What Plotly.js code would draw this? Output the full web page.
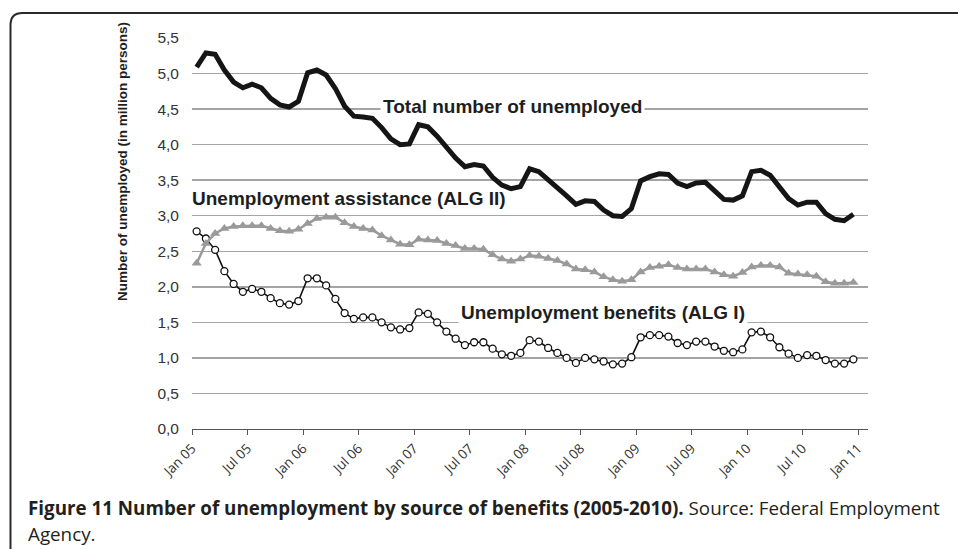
<!DOCTYPE html>
<html>
<head>
<meta charset="utf-8">
<script src="https://cdn.plot.ly/plotly-3.0.1.min.js"></script>
<style>
html,body{margin:0;padding:0;background:#fff;}
#chart{width:958px;height:549px;}
</style>
</head>
<body>
<div id="chart"></div>
<script>
// Monthly values, Jan 2005 - Dec 2010 (million persons)
const totalUnemployed = [
  5.09,5.29,5.27,5.05,4.88,4.80,4.85,4.80,4.65,4.56,4.53,4.61,
  5.01,5.05,4.98,4.79,4.54,4.40,4.39,4.37,4.24,4.08,4.00,4.01,
  4.28,4.25,4.12,3.97,3.81,3.69,3.72,3.70,3.54,3.43,3.38,3.41,
  3.66,3.62,3.51,3.41,3.28,3.16,3.21,3.20,3.08,3.00,2.99,3.10,
  3.49,3.55,3.59,3.58,3.46,3.41,3.46,3.47,3.35,3.23,3.22,3.28,
  3.62,3.64,3.57,3.41,3.24,3.15,3.19,3.19,3.03,2.95,2.93,3.02
];
const algII = [
  2.33,2.61,2.75,2.82,2.85,2.86,2.86,2.86,2.82,2.79,2.78,2.81,
  2.89,2.96,2.98,2.98,2.90,2.85,2.82,2.80,2.72,2.66,2.60,2.59,
  2.67,2.66,2.65,2.61,2.58,2.54,2.54,2.53,2.45,2.39,2.36,2.39,
  2.44,2.43,2.40,2.37,2.32,2.25,2.24,2.21,2.14,2.10,2.08,2.10,
  2.21,2.27,2.29,2.31,2.27,2.25,2.25,2.25,2.21,2.17,2.15,2.20,
  2.28,2.30,2.30,2.28,2.19,2.18,2.17,2.15,2.07,2.05,2.05,2.06
];
const algI = [
  2.78,2.68,2.52,2.22,2.04,1.93,1.97,1.93,1.84,1.77,1.75,1.80,
  2.12,2.12,2.02,1.83,1.63,1.55,1.57,1.57,1.50,1.43,1.40,1.42,
  1.64,1.62,1.50,1.37,1.27,1.18,1.22,1.22,1.13,1.05,1.03,1.07,
  1.25,1.23,1.14,1.07,1.00,0.93,1.00,0.98,0.95,0.91,0.92,1.01,
  1.29,1.32,1.32,1.30,1.21,1.18,1.23,1.23,1.16,1.10,1.08,1.12,
  1.36,1.37,1.29,1.15,1.06,1.00,1.04,1.03,0.97,0.92,0.92,0.98
];
const tickLabels = ['Jan 05','Jul 05','Jan 06','Jul 06','Jan 07','Jul 07','Jan 08',
                    'Jul 08','Jan 09','Jul 09','Jan 10','Jul 10','Jan 11'];
const seriesNames = ['Total number of unemployed','Unemployment assistance (ALG II)','Unemployment benefits (ALG I)'];
const yTitle = 'Number of unemployed (in million persons)';
const captionBold = 'Figure 11 Number of unemployment by source of benefits (2005-2010).';
const captionRest = 'Source: Federal Employment';
const captionLine2 = 'Agency.';

const idx = totalUnemployed.map((_, i) => i);
const tickVals = tickLabels.map((_, i) => i * 6 - 0.5);

const traces = [
  {x: idx, y: totalUnemployed, type: 'scatter', mode: 'lines', name: seriesNames[0],
   line: {color: '#151515', width: 5}},
  {x: idx, y: algI, type: 'scatter', mode: 'lines+markers', name: seriesNames[2],
   line: {color: '#111', width: 1.6},
   marker: {symbol: 'circle', size: 7, color: '#fff', line: {color: '#111', width: 1.3}}},
  {x: idx, y: algII, type: 'scatter', mode: 'lines+markers', name: seriesNames[1],
   line: {color: '#9a9a9a', width: 2.5},
   marker: {symbol: 'triangle-up', size: 9, color: '#9a9a9a', line: {width: 0}}}
];

// helpers: pixel -> paper
const L = 192, T = 38, PW = 676, PH = 391;
const px = v => (v - L) / PW;
const py = v => (T + PH - v) / PH;

const labelFont = {family: 'Liberation Sans, Arial, sans-serif', size: 19, color: '#1e1e1e'};

const layout = {
  width: 958, height: 549,
  margin: {l: L, r: 958 - L - PW, t: T, b: 549 - T - PH},
  paper_bgcolor: '#fff', plot_bgcolor: '#fff',
  showlegend: false,
  separators: ',.',
  xaxis: {
    range: [-0.5, 72.58], tickmode: 'array', tickvals: tickVals, ticktext: tickLabels,
    tickangle: -45, ticks: 'outside', ticklen: 5, tickcolor: '#555', tickwidth: 1,
    showline: true, linecolor: '#555', linewidth: 1.2, showgrid: false, zeroline: false,
    tickfont: {family: 'Open Sans, sans-serif', size: 13.5, color: '#333'}
  },
  yaxis: {
    range: [0, 5.5], dtick: 0.5, tick0: 0, tickformat: '.1f',
    showgrid: true, gridcolor: '#a4a4a4', gridwidth: 1.5, zeroline: false, showline: false,
    ticks: '', ticklabelstandoff: 12,
    tickfont: {family: 'Liberation Sans, Arial, sans-serif', size: 15.5, color: '#333'}
  },
  annotations: [
    {text: '<b>' + seriesNames[0] + '</b>', xref: 'paper', yref: 'paper', x: px(380), y: py(106),
     xanchor: 'left', yanchor: 'middle', showarrow: false, font: labelFont, bgcolor: '#fff', borderpad: 2},
    {text: '<b>' + seriesNames[1] + '</b>', xref: 'paper', yref: 'paper', x: px(190), y: py(198),
     xanchor: 'left', yanchor: 'middle', showarrow: false, font: labelFont},
    {text: '<b>' + seriesNames[2] + '</b>', xref: 'paper', yref: 'paper', x: px(458), y: py(312),
     xanchor: 'left', yanchor: 'middle', showarrow: false, font: labelFont, bgcolor: '#fff', borderpad: 2},
    {text: '<b>' + yTitle + '</b>', xref: 'paper', yref: 'paper', x: px(122), y: py(162),
     xanchor: 'center', yanchor: 'middle', textangle: -90, showarrow: false,
     font: {family: 'Liberation Sans, Arial, sans-serif', size: 13.5, color: '#1e1e1e'}},
    {text: '<b>' + captionBold + '</b> ' + captionRest, xref: 'paper', yref: 'paper', x: px(26), y: py(508),
     xanchor: 'left', yanchor: 'middle', showarrow: false,
     font: {family: 'Open Sans, sans-serif', size: 18.8, color: '#231f20'}},
    {text: captionLine2, xref: 'paper', yref: 'paper', x: px(26), y: py(534),
     xanchor: 'left', yanchor: 'middle', showarrow: false,
     font: {family: 'Open Sans, sans-serif', size: 18.8, color: '#231f20'}}
  ],
  shapes: [
    {type: 'path', xref: 'paper', yref: 'paper',
     path: 'M ' + px(10.5) + ',' + py(560) + ' L ' + px(10.5) + ',' + py(25) +
           ' Q ' + px(10.5) + ',' + py(13) + ' ' + px(22.5) + ',' + py(13) +
           ' L ' + px(970) + ',' + py(13),
     line: {color: '#2a2a2a', width: 2}}
  ]
};

Plotly.newPlot('chart', traces, layout, {staticPlot: true, displayModeBar: false});
</script>
</body>
</html>
